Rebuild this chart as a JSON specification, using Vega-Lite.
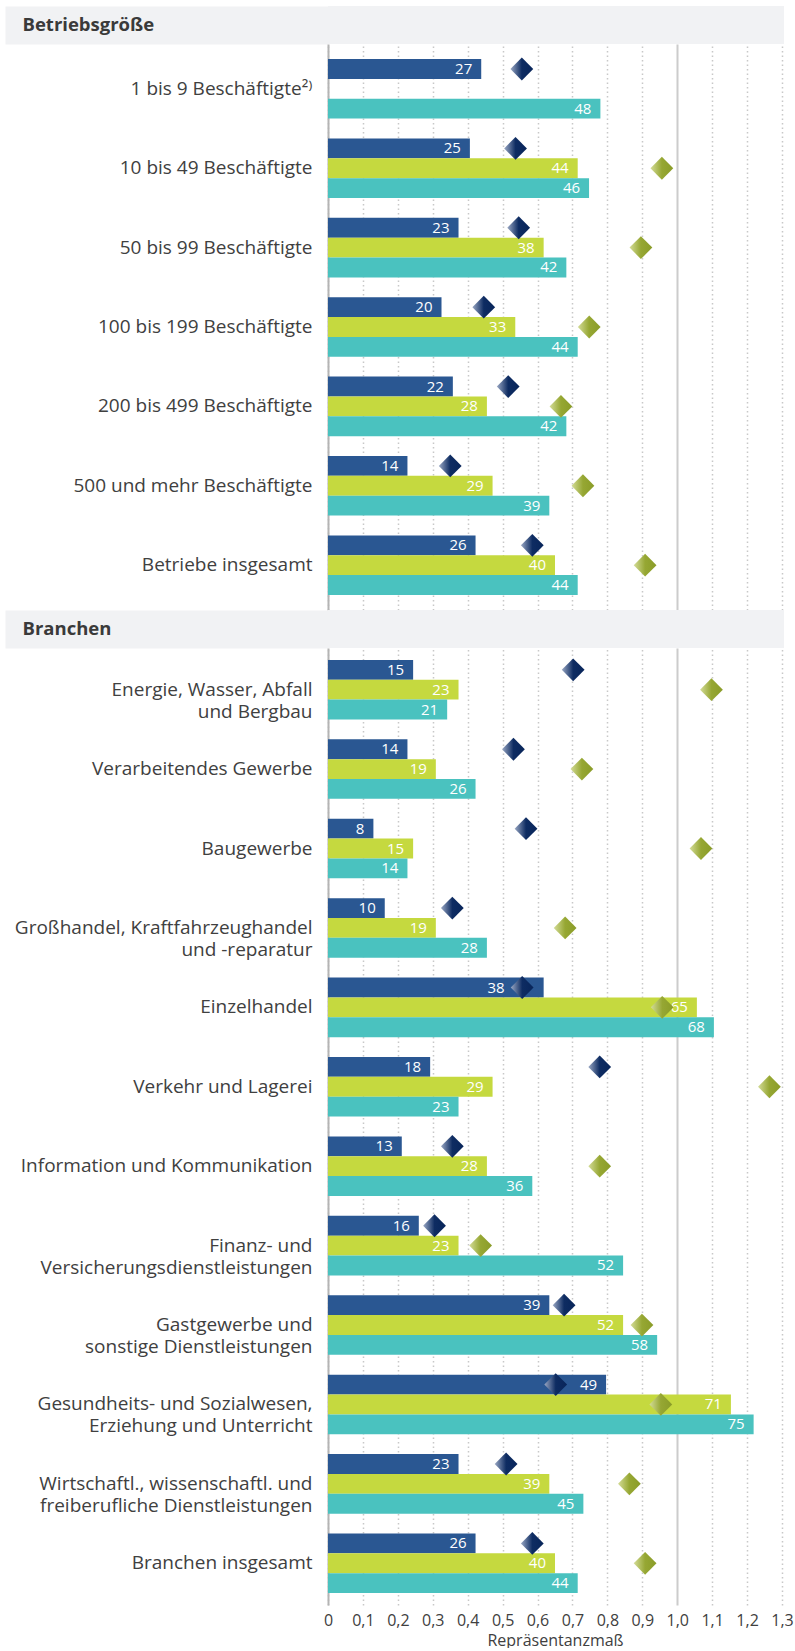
{
  "$schema": "https://vega.github.io/schema/vega-lite/v6.json",
  "background": "white",
  "padding": {"left": -14, "top": 6, "right": 6, "bottom": 0},
  "spacing": 0,
  "config": {
    "font": "Open Sans",
    "view": {"stroke": null},
    "axis": {"labelColor": "#404040", "titleColor": "#404040"}
  },
  "vconcat": [
    {
      "width": 456,
      "height": 38,
      "view": {"fill": "#f1f2f4", "stroke": null},
      "data": {"values": [{"section": "Betriebsgröße"}]},
      "mark": {"type": "bar", "opacity": 0},
      "encoding": {
        "y": {
          "field": "section", "type": "nominal", "title": null,
          "scale": {"paddingInner": 0, "paddingOuter": 0},
          "axis": {"domain": false, "tickSize": 323, "tickWidth": 38, "tickColor": "#f1f2f4", "labelAlign": "left", "labelPadding": -17, "labelFontSize": 18.5, "labelFontWeight": "bold", "labelColor": "#3a3a3a"}
        }
      }
    },
    {
      "width": 454,
      "height": 566,
      "data": {"values": [
        {"cat": "1 bis 9 Beschäftigte²⁾", "s": "1", "pct": 27, "rep": 0.555},
        {"cat": "1 bis 9 Beschäftigte²⁾", "s": "3", "pct": 48, "rep": null},
        {"cat": "10 bis 49 Beschäftigte", "s": "1", "pct": 25, "rep": 0.537},
        {"cat": "10 bis 49 Beschäftigte", "s": "2", "pct": 44, "rep": 0.956},
        {"cat": "10 bis 49 Beschäftigte", "s": "3", "pct": 46, "rep": null},
        {"cat": "50 bis 99 Beschäftigte", "s": "1", "pct": 23, "rep": 0.546},
        {"cat": "50 bis 99 Beschäftigte", "s": "2", "pct": 38, "rep": 0.896},
        {"cat": "50 bis 99 Beschäftigte", "s": "3", "pct": 42, "rep": null},
        {"cat": "100 bis 199 Beschäftigte", "s": "1", "pct": 20, "rep": 0.446},
        {"cat": "100 bis 199 Beschäftigte", "s": "2", "pct": 33, "rep": 0.748},
        {"cat": "100 bis 199 Beschäftigte", "s": "3", "pct": 44, "rep": null},
        {"cat": "200 bis 499 Beschäftigte", "s": "1", "pct": 22, "rep": 0.516},
        {"cat": "200 bis 499 Beschäftigte", "s": "2", "pct": 28, "rep": 0.667},
        {"cat": "200 bis 499 Beschäftigte", "s": "3", "pct": 42, "rep": null},
        {"cat": "500 und mehr Beschäftigte", "s": "1", "pct": 14, "rep": 0.35},
        {"cat": "500 und mehr Beschäftigte", "s": "2", "pct": 29, "rep": 0.73},
        {"cat": "500 und mehr Beschäftigte", "s": "3", "pct": 39, "rep": null},
        {"cat": "Betriebe insgesamt", "s": "1", "pct": 26, "rep": 0.585},
        {"cat": "Betriebe insgesamt", "s": "2", "pct": 40, "rep": 0.908},
        {"cat": "Betriebe insgesamt", "s": "3", "pct": 44, "rep": null}
      ]},
      "encoding": {
        "y": {
          "field": "cat", "type": "nominal", "sort": null, "title": null,
          "scale": {"paddingInner": 0.25, "paddingOuter": 0.19},
          "axis": {"labelExpr": "split(datum.label, '|')", "labelFontSize": 19, "labelLineHeight": 22, "labelPadding": 16, "labelLimit": 400, "ticks": false, "domainColor": "#b4b4b4", "domainWidth": 2}
        },
        "yOffset": {"field": "s", "type": "nominal", "scale": {"domain": ["1", "2", "3"], "paddingInner": 0, "paddingOuter": 0}}
      },
      "layer": [
        {
          "encoding": {"x": {"field": "pct", "type": "quantitative", "scale": {"domain": [0, 80], "nice": false}, "axis": null}},
          "layer": [
            {
              "mark": {"type": "bar"},
              "encoding": {"color": {"field": "s", "type": "nominal", "scale": {"domain": ["1", "2", "3"], "range": ["#2a5792", "#c5d93f", "#4ac2bf"]}, "legend": null}}
            },
            {
              "mark": {"type": "text", "align": "right", "baseline": "middle", "dx": -9, "color": "white", "fontSize": 15},
              "encoding": {"text": {"field": "pct", "type": "quantitative"}}
            }
          ]
        },
        {
          "encoding": {"x": {"field": "rep", "type": "quantitative", "scale": {"domain": [0, 1.3], "nice": false},
            "axis": {"title": null, "labels": false, "ticks": false, "domain": false, "grid": true,
              "values": [0, 0.1, 0.2, 0.3, 0.4, 0.5, 0.6, 0.7, 0.8, 0.9, 1, 1.1, 1.2, 1.3],
              "gridDash": {"condition": {"test": "datum.value === 1", "value": []}, "value": [1.5, 3]},
              "gridWidth": {"condition": {"test": "datum.value === 1", "value": 2}, "value": 1.5},
              "gridColor": {"condition": {"test": "datum.value === 1", "value": "#cccccc"}, "value": "#c8c8c8"}}}},
          "layer": [
            {
              "transform": [{"filter": "datum.s === '1'"}],
              "mark": {"type": "point", "shape": "diamond", "size": 520, "filled": true, "opacity": 1, "strokeWidth": 0,
                "fill": {"gradient": "linear", "x1": 0, "y1": 0, "x2": 1, "y2": 0, "stops": [{"offset": 0, "color": "#9aa8c4"}, {"offset": 0.5, "color": "#0e2c62"}, {"offset": 1, "color": "#08255a"}]}}
            },
            {
              "transform": [{"filter": "datum.s === '2'"}],
              "mark": {"type": "point", "shape": "diamond", "size": 520, "filled": true, "opacity": 1, "strokeWidth": 0,
                "fill": {"gradient": "linear", "x1": 0, "y1": 0, "x2": 1, "y2": 0, "stops": [{"offset": 0, "color": "#d4dc98"}, {"offset": 0.5, "color": "#96a733"}, {"offset": 1, "color": "#8a9c28"}]}}
            }
          ]
        }
      ],
      "resolve": {"scale": {"x": "independent"}}
    },
    {
      "width": 456,
      "height": 38,
      "view": {"fill": "#f1f2f4", "stroke": null},
      "data": {"values": [{"section": "Branchen"}]},
      "mark": {"type": "bar", "opacity": 0},
      "encoding": {
        "y": {
          "field": "section", "type": "nominal", "title": null,
          "scale": {"paddingInner": 0, "paddingOuter": 0},
          "axis": {"domain": false, "tickSize": 323, "tickWidth": 38, "tickColor": "#f1f2f4", "labelAlign": "left", "labelPadding": -17, "labelFontSize": 18.5, "labelFontWeight": "bold", "labelColor": "#3a3a3a"}
        }
      }
    },
    {
      "width": 454,
      "height": 957,
      "data": {"values": [
        {"cat": "Energie, Wasser, Abfall|und Bergbau", "s": "1", "pct": 15, "rep": 0.702},
        {"cat": "Energie, Wasser, Abfall|und Bergbau", "s": "2", "pct": 23, "rep": 1.098},
        {"cat": "Energie, Wasser, Abfall|und Bergbau", "s": "3", "pct": 21, "rep": null},
        {"cat": "Verarbeitendes Gewerbe", "s": "1", "pct": 14, "rep": 0.531},
        {"cat": "Verarbeitendes Gewerbe", "s": "2", "pct": 19, "rep": 0.727},
        {"cat": "Verarbeitendes Gewerbe", "s": "3", "pct": 26, "rep": null},
        {"cat": "Baugewerbe", "s": "1", "pct": 8, "rep": 0.567},
        {"cat": "Baugewerbe", "s": "2", "pct": 15, "rep": 1.068},
        {"cat": "Baugewerbe", "s": "3", "pct": 14, "rep": null},
        {"cat": "Großhandel, Kraftfahrzeughandel|und -reparatur", "s": "1", "pct": 10, "rep": 0.356},
        {"cat": "Großhandel, Kraftfahrzeughandel|und -reparatur", "s": "2", "pct": 19, "rep": 0.679},
        {"cat": "Großhandel, Kraftfahrzeughandel|und -reparatur", "s": "3", "pct": 28, "rep": null},
        {"cat": "Einzelhandel", "s": "1", "pct": 38, "rep": 0.556},
        {"cat": "Einzelhandel", "s": "2", "pct": 65, "rep": 0.957},
        {"cat": "Einzelhandel", "s": "3", "pct": 68, "rep": null},
        {"cat": "Verkehr und Lagerei", "s": "1", "pct": 18, "rep": 0.778},
        {"cat": "Verkehr und Lagerei", "s": "2", "pct": 29, "rep": 1.264},
        {"cat": "Verkehr und Lagerei", "s": "3", "pct": 23, "rep": null},
        {"cat": "Information und Kommunikation", "s": "1", "pct": 13, "rep": 0.356},
        {"cat": "Information und Kommunikation", "s": "2", "pct": 28, "rep": 0.778},
        {"cat": "Information und Kommunikation", "s": "3", "pct": 36, "rep": null},
        {"cat": "Finanz- und|Versicherungsdienstleistungen", "s": "1", "pct": 16, "rep": 0.305},
        {"cat": "Finanz- und|Versicherungsdienstleistungen", "s": "2", "pct": 23, "rep": 0.437},
        {"cat": "Finanz- und|Versicherungsdienstleistungen", "s": "3", "pct": 52, "rep": null},
        {"cat": "Gastgewerbe und|sonstige Dienstleistungen", "s": "1", "pct": 39, "rep": 0.676},
        {"cat": "Gastgewerbe und|sonstige Dienstleistungen", "s": "2", "pct": 52, "rep": 0.899},
        {"cat": "Gastgewerbe und|sonstige Dienstleistungen", "s": "3", "pct": 58, "rep": null},
        {"cat": "Gesundheits- und Sozialwesen,|Erziehung und Unterricht", "s": "1", "pct": 49, "rep": 0.652},
        {"cat": "Gesundheits- und Sozialwesen,|Erziehung und Unterricht", "s": "2", "pct": 71, "rep": 0.953},
        {"cat": "Gesundheits- und Sozialwesen,|Erziehung und Unterricht", "s": "3", "pct": 75, "rep": null},
        {"cat": "Wirtschaftl., wissenschaftl. und|freiberufliche Dienstleistungen", "s": "1", "pct": 23, "rep": 0.51},
        {"cat": "Wirtschaftl., wissenschaftl. und|freiberufliche Dienstleistungen", "s": "2", "pct": 39, "rep": 0.863},
        {"cat": "Wirtschaftl., wissenschaftl. und|freiberufliche Dienstleistungen", "s": "3", "pct": 45, "rep": null},
        {"cat": "Branchen insgesamt", "s": "1", "pct": 26, "rep": 0.585},
        {"cat": "Branchen insgesamt", "s": "2", "pct": 40, "rep": 0.908},
        {"cat": "Branchen insgesamt", "s": "3", "pct": 44, "rep": null}
      ]},
      "encoding": {
        "y": {
          "field": "cat", "type": "nominal", "sort": null, "title": null,
          "scale": {"paddingInner": 0.25, "paddingOuter": 0.15},
          "axis": {"labelExpr": "split(datum.label, '|')", "labelFontSize": 19, "labelLineHeight": 22, "labelPadding": 16, "labelLimit": 400, "ticks": false, "domainColor": "#b4b4b4", "domainWidth": 2}
        },
        "yOffset": {"field": "s", "type": "nominal", "scale": {"domain": ["1", "2", "3"], "paddingInner": 0, "paddingOuter": 0}}
      },
      "layer": [
        {
          "encoding": {"x": {"field": "pct", "type": "quantitative", "scale": {"domain": [0, 80], "nice": false}, "axis": null}},
          "layer": [
            {
              "mark": {"type": "bar"},
              "encoding": {"color": {"field": "s", "type": "nominal", "scale": {"domain": ["1", "2", "3"], "range": ["#2a5792", "#c5d93f", "#4ac2bf"]}, "legend": null}}
            },
            {
              "transform": [{"filter": "!(datum.cat === 'Einzelhandel' && datum.s === '1')"}],
              "mark": {"type": "text", "align": "right", "baseline": "middle", "dx": -9, "color": "white", "fontSize": 15},
              "encoding": {"text": {"field": "pct", "type": "quantitative"}}
            },
            {
              "transform": [{"filter": "datum.cat === 'Einzelhandel' && datum.s === '1'"}],
              "mark": {"type": "text", "align": "right", "baseline": "middle", "dx": -39, "color": "white", "fontSize": 15},
              "encoding": {"text": {"field": "pct", "type": "quantitative"}}
            }
          ]
        },
        {
          "encoding": {"x": {"field": "rep", "type": "quantitative", "scale": {"domain": [0, 1.3], "nice": false},
            "axis": {"title": "Repräsentanzmaß", "ticks": false, "domain": false, "grid": true, "labelFlush": false,
              "values": [0, 0.1, 0.2, 0.3, 0.4, 0.5, 0.6, 0.7, 0.8, 0.9, 1, 1.1, 1.2, 1.3],
              "labelExpr": "datum.value == 0 ? '0' : replace(format(datum.value, '.1f'), '.', ',')",
              "labelFontSize": 16, "labelPadding": 7, "titleFontSize": 16, "titleFontWeight": "normal", "titlePadding": 4,
              "gridDash": {"condition": {"test": "datum.value === 1", "value": []}, "value": [1.5, 3]},
              "gridWidth": {"condition": {"test": "datum.value === 1", "value": 2}, "value": 1.5},
              "gridColor": {"condition": {"test": "datum.value === 1", "value": "#cccccc"}, "value": "#c8c8c8"}}}},
          "layer": [
            {
              "transform": [{"filter": "datum.s === '1'"}],
              "mark": {"type": "point", "shape": "diamond", "size": 520, "filled": true, "opacity": 1, "strokeWidth": 0,
                "fill": {"gradient": "linear", "x1": 0, "y1": 0, "x2": 1, "y2": 0, "stops": [{"offset": 0, "color": "#9aa8c4"}, {"offset": 0.5, "color": "#0e2c62"}, {"offset": 1, "color": "#08255a"}]}}
            },
            {
              "transform": [{"filter": "datum.s === '2'"}],
              "mark": {"type": "point", "shape": "diamond", "size": 520, "filled": true, "opacity": 1, "strokeWidth": 0,
                "fill": {"gradient": "linear", "x1": 0, "y1": 0, "x2": 1, "y2": 0, "stops": [{"offset": 0, "color": "#d4dc98"}, {"offset": 0.5, "color": "#96a733"}, {"offset": 1, "color": "#8a9c28"}]}}
            }
          ]
        }
      ],
      "resolve": {"scale": {"x": "independent"}}
    }
  ]
}
